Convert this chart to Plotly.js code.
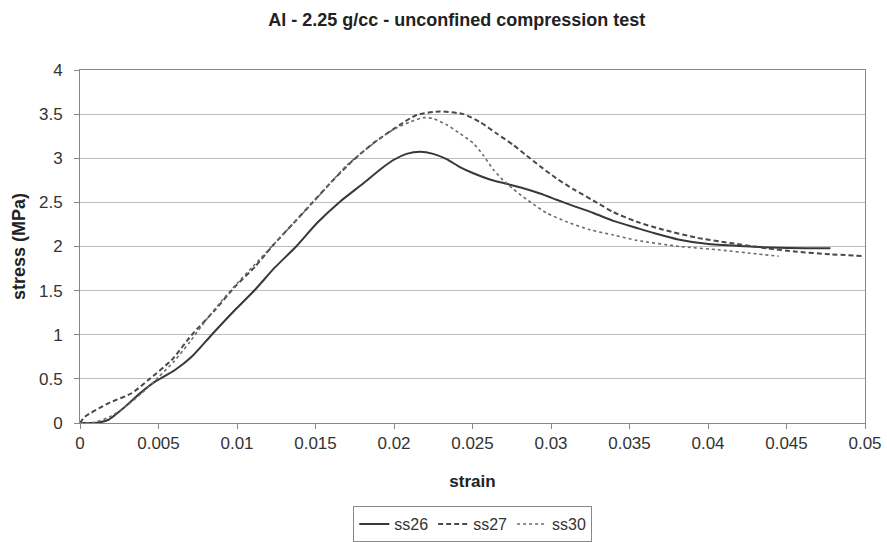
<!DOCTYPE html>
<html>
<head>
<meta charset="utf-8">
<script src="https://cdn.plot.ly/plotly-3.0.1.min.js"></script>
<style>html,body{margin:0;padding:0;background:#fff;}#chart{width:887px;height:542px;}</style>
</head>
<body>
<div id="chart"></div>
<script>
const ss26Strain = [0, 0.0008, 0.0012, 0.00178, 0.00287, 0.00378, 0.00478, 0.00605, 0.00711, 0.00839, 0.00987, 0.01115, 0.0124, 0.0138, 0.01508, 0.01656, 0.01805, 0.0191, 0.01996, 0.0208, 0.02166, 0.0225, 0.02335, 0.0242, 0.02505, 0.02611, 0.02718, 0.02824, 0.0293, 0.03036, 0.03142, 0.0327, 0.03397, 0.03546, 0.0366, 0.0381, 0.0399, 0.0420, 0.0440, 0.0463, 0.0478];
const ss26Stress = [0, 0, 0.005, 0.034, 0.185, 0.33, 0.468, 0.60, 0.75, 1.0, 1.28, 1.51, 1.76, 2.006, 2.263, 2.508, 2.716, 2.870, 2.98, 3.05, 3.074, 3.05, 2.99, 2.90, 2.83, 2.76, 2.71, 2.66, 2.60, 2.53, 2.46, 2.38, 2.29, 2.21, 2.15, 2.08, 2.03, 2.005, 1.988, 1.980, 1.980];

const ss27Strain = [0, 0.00032, 0.0018, 0.00329, 0.00435, 0.00584, 0.00711, 0.0086, 0.00987, 0.01115, 0.01231, 0.01359, 0.01486, 0.01613, 0.01741, 0.01868, 0.02038, 0.02144, 0.02293, 0.02442, 0.02548, 0.02654, 0.0276, 0.02845, 0.0293, 0.03036, 0.03142, 0.0327, 0.03397, 0.03546, 0.03715, 0.03928, 0.0414, 0.04374, 0.04565, 0.04777, 0.0499];
const ss27Stress = [0, 0.071, 0.223, 0.337, 0.487, 0.714, 0.997, 1.28, 1.544, 1.771, 2.017, 2.263, 2.508, 2.754, 2.98, 3.17, 3.38, 3.49, 3.53, 3.50, 3.41, 3.28, 3.15, 3.03, 2.91, 2.77, 2.65, 2.52, 2.39, 2.28, 2.19, 2.10, 2.04, 1.98, 1.941, 1.912, 1.892];

const ss30Strain = [0, 0.001, 0.002, 0.003, 0.004, 0.005, 0.006, 0.007, 0.008, 0.009, 0.010, 0.011, 0.012, 0.013, 0.014, 0.015, 0.016, 0.017, 0.018, 0.019, 0.020, 0.021, 0.02187, 0.0225, 0.02335, 0.0242, 0.02505, 0.0257, 0.02633, 0.02696, 0.0276, 0.02824, 0.02887, 0.02972, 0.031, 0.03248, 0.03397, 0.03546, 0.0382, 0.0408, 0.0429, 0.0445];
const ss30Stress = [0, 0.01, 0.08, 0.2, 0.35, 0.52, 0.70, 0.92, 1.16, 1.38, 1.58, 1.77, 1.96, 2.15, 2.34, 2.53, 2.73, 2.92, 3.07, 3.21, 3.33, 3.41, 3.46, 3.45, 3.38, 3.28, 3.17, 3.03, 2.87, 2.75, 2.65, 2.56, 2.48, 2.38, 2.28, 2.19, 2.13, 2.07, 2.00, 1.96, 1.92, 1.89];

const seriesNames = ['ss26', 'ss27', 'ss30'];
const xTickVals = [0, 0.005, 0.01, 0.015, 0.02, 0.025, 0.03, 0.035, 0.04, 0.045, 0.05];
const xTickText = ['0', '0.005', '0.01', '0.015', '0.02', '0.025', '0.03', '0.035', '0.04', '0.045', '0.05'];
const yTickVals = [0, 0.5, 1, 1.5, 2, 2.5, 3, 3.5, 4];
const yTickText = ['0', '0.5', '1', '1.5', '2', '2.5', '3', '3.5', '4'];

const traces = [
  {x: ss26Strain, y: ss26Stress, name: seriesNames[0], mode: 'lines', line: {color: '#383838', width: 2, dash: 'solid', shape: 'spline', smoothing: 0.6}},
  {x: ss27Strain, y: ss27Stress, name: seriesNames[1], mode: 'lines', line: {color: '#484848', width: 2, dash: '5px,3px', shape: 'spline', smoothing: 0.6}},
  {x: ss30Strain, y: ss30Stress, name: seriesNames[2], mode: 'lines', line: {color: '#6a6a6a', width: 1.6, dash: 'dot', shape: 'spline', smoothing: 0.6}}
];

const font = 'Liberation Sans, Arial, sans-serif';
const layout = {
  width: 887, height: 542,
  margin: {l: 80, r: 22, t: 70, b: 119},
  paper_bgcolor: '#fff', plot_bgcolor: '#fff',
  font: {family: font, color: '#333', size: 17},
  title: {text: 'Al - 2.25 g/cc - unconfined compression test', font: {family: font, size: 18, color: '#222', weight: 'bold'}, x: 0.515, xanchor: 'center', y: 0.963, yanchor: 'middle'},
  xaxis: {
    range: [0, 0.05], tickvals: xTickVals, ticktext: xTickText, automargin: false,
    showgrid: false, zeroline: false, showline: true, mirror: true, linecolor: '#888', linewidth: 1,
    ticks: 'outside', ticklen: 5, tickcolor: '#888',
    tickfont: {family: font, size: 17, color: '#333'},
    title: {text: 'strain', font: {family: font, size: 17, color: '#222', weight: 'bold'}, standoff: 22}
  },
  yaxis: {
    range: [0, 4], tickvals: yTickVals, ticktext: yTickText, automargin: false,
    showgrid: true, gridcolor: '#bdbdbd', gridwidth: 1, zeroline: false,
    showline: true, mirror: true, linecolor: '#888', linewidth: 1,
    ticks: 'outside', ticklen: 5, tickcolor: '#888', ticklabelstandoff: 8,
    tickfont: {family: font, size: 17, color: '#333'},
    title: {text: 'stress (MPa)', font: {family: font, size: 18, color: '#222', weight: 'bold'}, standoff: 8}
  },
  showlegend: true,
  legend: {orientation: 'h', x: 0.533, xanchor: 'center', xref: 'container', y: 0.033, yanchor: 'middle', yref: 'container',
    bordercolor: '#888', borderwidth: 1, bgcolor: '#fff',
    font: {family: font, size: 16, color: '#333'}, itemwidth: 30, tracegroupgap: 0}
};

Plotly.newPlot('chart', traces, layout, {displayModeBar: false, staticPlot: true});
</script>
</body>
</html>
